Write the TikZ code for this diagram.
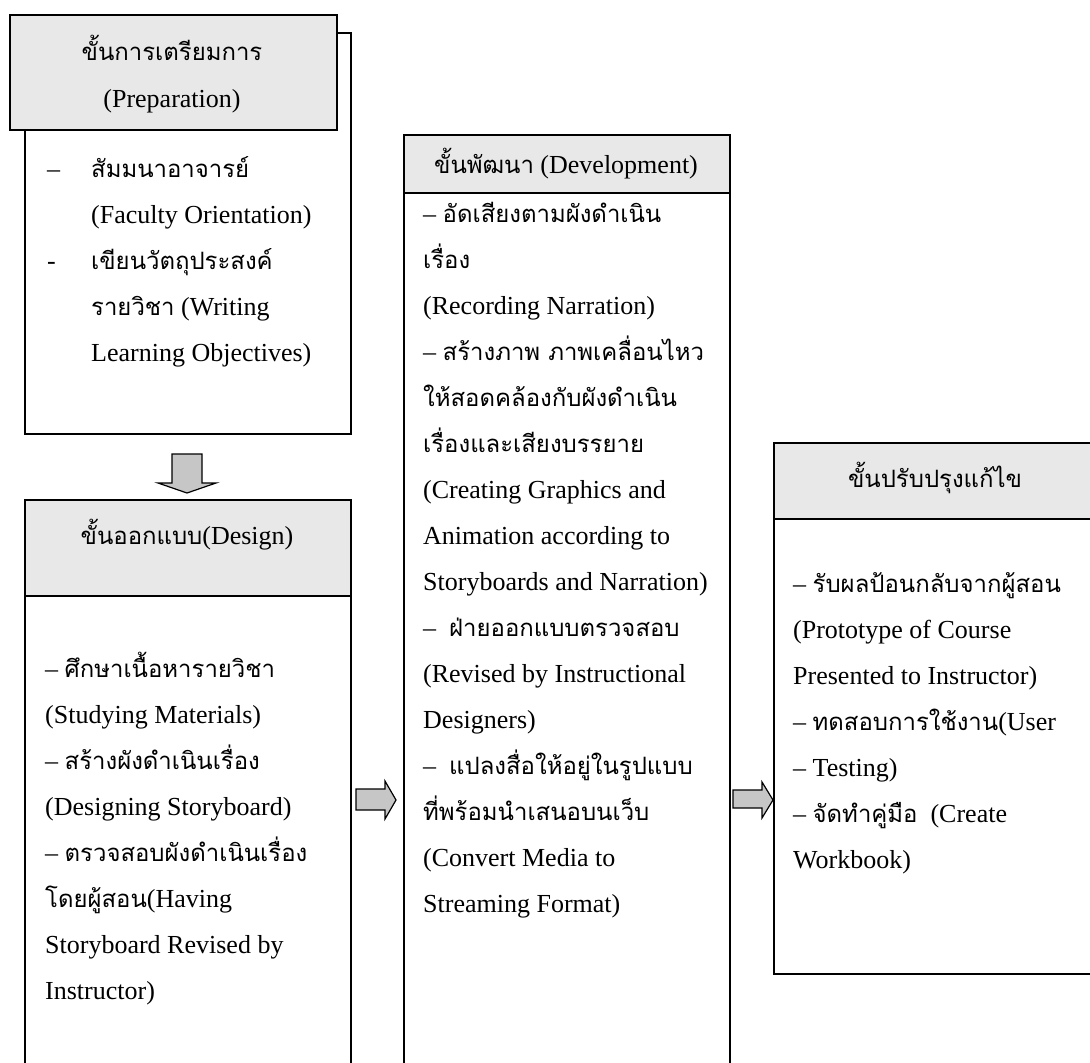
\documentclass[tikz,border=0pt]{standalone}
\usepackage{fontspec}
\setmainfont{Liberation Serif}
\newfontfamily\thaifont[Script=Thai,Scale=0.92]{Loma}
\newcommand{\thx}[1]{{\thaifont #1}}
\usetikzlibrary{positioning}

\begin{document}
\begin{tikzpicture}[
    x=1pt, y=-1pt,
    stagebox/.style={draw, line width=1.8pt, fill=white, inner sep=0,
                     anchor=north west},
    headbox/.style={stagebox, fill=gray!18},
    bodytxt/.style={font=\fontsize{26}{46}\selectfont, align=left,
                    anchor=base west, inner sep=0},
    headtxt/.style={font=\fontsize{26}{47}\selectfont, align=center,
                    inner sep=0},
    flow/.style={draw, line width=1.2pt, fill=gray!45, line join=miter}
]
\useasboundingbox (0,0) rectangle (1090,1063);
\clip (0,0) rectangle (1090,1063);

% Preparation (text anchored at the baseline of its last line)
\node[stagebox, minimum width=326, minimum height=401] (prep) at (24,32) {};
\node[headbox, minimum width=327, minimum height=115] (prephead) at (9,14) {};
\node[headtxt] (preptitle) at (172,74) {\thx{ขั้นการเตรียมการ}\\(Preparation)};
\node[bodytxt] (preptxt) at (47,361) {%
  \makebox[44pt][l]{–}\thx{สัมมนาอาจารย์}\\
  \hspace*{44pt}(Faculty Orientation)\\
  \makebox[44pt][l]{-}\thx{เขียนวัตถุประสงค์}\\
  \hspace*{44pt}\thx{รายวิชา} (Writing\\
  \hspace*{44pt}Learning Objectives)};

% Design
\node[stagebox, minimum width=326, minimum height=600] (design) at (24,499) {};
\node[headbox, minimum width=326, minimum height=96] (designhead) at (24,499) {};
\node[headtxt] (designtitle) at (187,535) {\thx{ขั้นออกแบบ}(Design)};
\node[bodytxt] (designtxt) at (45,999) {%
  – \thx{ศึกษาเนื้อหารายวิชา}\\
  (Studying Materials)\\
  – \thx{สร้างผังดำเนินเรื่อง}\\
  (Designing Storyboard)\\
  – \thx{ตรวจสอบผังดำเนินเรื่อง}\\
  \thx{โดยผู้สอน}(Having\\
  Storyboard Revised by\\
  Instructor)};

% Development
\node[stagebox, minimum width=326, minimum height=960] (dev) at (403,134) {};
\node[headbox, minimum width=326, minimum height=58] (devhead) at (403,134) {};
\node[headtxt] (devtitle) at (566,164) {\thx{ขั้นพัฒนา} (Development)};
\node[bodytxt] (devtxt) at (423,912) {%
  – \thx{อัดเสียงตามผังดำเนิน}\\
  \thx{เรื่อง}\\
  (Recording Narration)\\
  – \thx{สร้างภาพ ภาพเคลื่อนไหว}\\
  \thx{ให้สอดคล้องกับผังดำเนิน}\\
  \thx{เรื่องและเสียงบรรยาย}\\
  (Creating Graphics and\\
  Animation according to\\
  Storyboards and Narration)\\
  –\enspace\thx{ฝ่ายออกแบบตรวจสอบ}\\
  (Revised by Instructional\\
  Designers)\\
  –\enspace\thx{แปลงสื่อให้อยู่ในรูปแบบ}\\
  \thx{ที่พร้อมนำเสนอบนเว็บ}\\
  (Convert Media to\\
  Streaming Format)};

% Revision
\node[stagebox, minimum width=340, minimum height=531] (revise) at (773,442) {};
\node[headbox, minimum width=340, minimum height=76] (revisehead) at (773,442) {};
\node[headtxt] (revisetitle) at (935,478) {\thx{ขั้นปรับปรุงแก้ไข}};
\node[bodytxt] (revisetxt) at (793,868) {%
  – \thx{รับผลป้อนกลับจากผู้สอน}\\
  (Prototype of Course\\
  Presented to Instructor)\\
  – \thx{ทดสอบการใช้งาน}(User\\
  – Testing)\\
  – \thx{จัดทำคู่มือ}\enspace(Create\\
  Workbook)};

% flow arrows
\coordinate (down) at (prep.south -| 187,0);
\draw[flow] (172,454) -- (202,454) -- (202,483) -- (216,483) -- (187,493)
  -- (158,483) -- (172,483) -- cycle;
\coordinate (toDev) at (design.east |- 0,800);
\draw[flow] (356,789) -- (385,789) -- (385,781) -- (396,800) -- (385,819)
  -- (385,810) -- (356,810) -- cycle;
\coordinate (toRevise) at (dev.east |- 0,800);
\draw[flow] (733,790) -- (762,790) -- (762,782) -- (773,800) -- (762,818)
  -- (762,808) -- (733,808) -- cycle;
\end{tikzpicture}
\end{document}
